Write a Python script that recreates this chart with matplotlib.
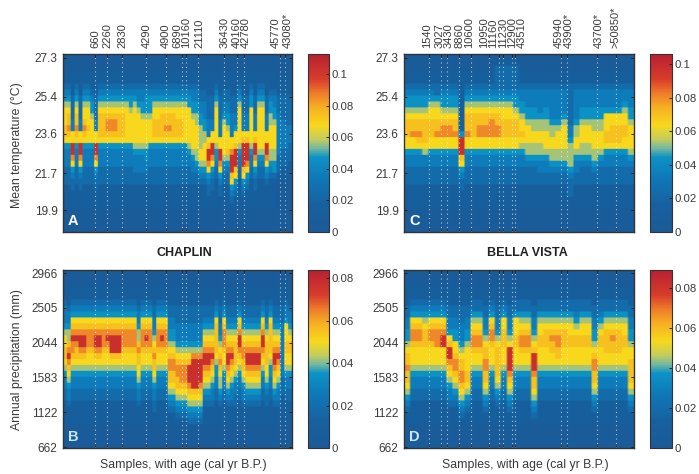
import numpy as np
import matplotlib
matplotlib.use('Agg')
import matplotlib.pyplot as plt
from matplotlib.colors import LinearSegmentedColormap

plt.rcParams['font.family'] = ['Liberation Sans', 'DejaVu Sans']

# colour level (0-9) -> share of the colorbar range
level_share = [0.03, 0.12, 0.22, 0.32, 0.42, 0.50, 0.60, 0.66, 0.76, 0.92]

# every string is one sample column, top of the plot first, trailing zeros left out
temp_chaplin = [
 "00011234566677643332221111","00011234567787643332221111","00011112222336699864322111",
 "00011234567787643332221111","00011112222336699864322111","00011234566787643332221111",
 "00011234566676643332221111","00011123445666643332221111","00011112222336699864322111",
 "00011234567777643332221111","00011234567777643332221111","00011234567887643332221111",
 "00011234567887643332221111","00011234567887643332221111","00011234567777643332221111",
 "00011234567777643332221111","00011234566666643332221111","00011234456666643332221111",
 "00011234566666654333221111","00011233456666654333221111","00011233445666654333221111",
 "00011234445666654433221111","00011234445666643332221111","00011234566777643332221111",
 "00011234566777643332221111","00011234567777643332221111","00011234567787643332221111",
 "00011234567787643332221111","00011234567777643332221111","00011234566777643332221111",
 "00011234566777643332221111","00011234566666643332221111","00011234466666654332221111",
 "00011233445666665433221111","00011233445566665543221111","00011122334455556654321111",
 "00011122333445566654321111","00011112222333679986432211","00011112222336699864322111",
 "00011234566666654432211111","00011112222333669986432211","00011122334566666543221111",
 "00011122334456667543221111","00011112223333668999764321","00011112223346679997643211",
 "00011234566666654332211111","00011112223336799997643211","00011112223336799986432111",
 "00011234466666654332211111","00011112223336799864322111","00011234566666665432211111",
 "00011234566666665432211111","00011112223336699864321111","00011123445566665543211111",
 "00011123344566665544211111","00001112223333333222110000","00001112222333332221100000",
 "00001112222233332221100000","00001112222233322211100000",
]
precip_chaplin = [
 "00011233345667765433221111","00011123345578987654332111","00011234678988765433221111",
 "00011234678987765433221111","00011234678998765433221111","00011234678998765433221111",
 "00011234678887665433221111","00011234678887665433221111","00011234678998765433221111",
 "00011234678998765433221111","00011234678887665433221111","00011234678987665433221111",
 "00011234678999765433221111","00011234678999765433221111","00011234678999765433221111",
 "00011234678887665433221111","00011234678887665433221111","00011234678887665433221111",
 "00011234678887665433221111","00011123345578776654332111","00011234678887665433221111",
 "00011234678987665433221111","00011234678887665433221111","00011122334567877654332211",
 "00011234678887665433221111","00011234678987665433221111","00011234678887665433221111",
 "00011122334456788776543211","00011122334456788776543211","00011122233345678877654321",
 "00011122233345678887654321","00011122233345678887654321","00011122233345679998765432",
 "00011122233345899999765432","00011122233345899999765432","00011122233345899998765432",
 "00011122345678998765432111","00011122345678998765432111","00011122345678987654332111",
 "00011234677777654433221111","00011122233456787655432111","00011234678887665433221111",
 "00011122345678998765432111","00011122345678987654332111","00011122345677776543322111",
 "00011234678998765433221111","00011122345678877654332111","00011122345678998765432111",
 "00011122345678998765432111","00011122345678998765432111","00011122345678998765432111",
 "00011234678998765433221111","00011122345677776654322111","00011234677777654433221111",
 "00011122345678998765432111","00011122345678987654332111","00011122233333333322211100",
 "00011233466677665433221111","00011123345677665433221111",
]
temp_bella = [
 "00011234456777664332221111","00011234456778664332221111","00011234456778764332221111",
 "00011234456777765332221111","00011234566777664332221111","00011224566778664332221111",
 "00011234456788664332221111","00011234456788664332221111","00011234456778664332221111",
 "00011111111114999764322111","00011234567778664332221111","00011234567777664332221111",
 "00011234567788664332221111","00011234567788664332221111","00011234567888664332221111",
 "01222234567788664332221111","01222234566777664332221111","01222234566777664332221111",
 "01222234456777664332221111","00011233445667654332221111","00011233344566655432221111",
 "00011233344556655432221111","00011233334556655433221111","00011233344556665433221111",
 "00011233333455665543221111","00011233333456665543221111","00011233334566665543221111",
 "00011222222233455554322211","00011233333455665433221111","00011233344566655432221111",
 "00011233344566655432221111","00011233344556665543221111","00011233344556665432221111",
 "00011233346667764332221111","00011233346677764332221111","00011233346677764332221111",
 "00011233456677664332221111","00011233344566665432221111",
]
precip_bella = [
 "00011122334456778776543211","00011234678876665433221111","00011234678876665433221111",
 "00011234567776665433221111","00011234678876665433221111","00011234678886665433221111",
 "00011234678996665433221111","00011122334679987654332111","00011122334466788765432111",
 "00011122233345677887654321","00011122334456666776543211","00011224567887665433221111",
 "00011224567887665433221111","00011122334567788776543211","00011234678876665433221111",
 "00011122334567777765432111","00011234667776665433221111","00011122334569999876543211",
 "00011224666776665433221111","00011224567887665433221111","00011224567887665433221111",
 "00011122334567999877654321","00011224566776665433221111","00011224567776665433221111",
 "00011224567877665433221111","00011224567887765433221111","00011224567776665433221111",
 "00011224566776665433221111","00011223456776665433221111","00011224566776665433221111",
 "00011224566776665433221111","00011122334456788776543211","00011223456776665433221111",
 "00011224567777665433221111","00011224567877665433221111","00011224567777665433221111",
 "00011224566776665433221111","00011122334456677776543211",
]

temp_ticks = [27.3, 25.4, 23.6, 21.7, 19.9]
precip_ticks = [2966, 2505, 2044, 1583, 1122, 662]
temp_lim = [18.83, 27.49]
precip_lim = [649, 3006]

chaplin_samples = [8.2, 11.4, 15.3, 21.4, 26.5, 30.6, 31.6, 34.7, 41.6, 44.8, 46.7, 55.9, 57.1]
chaplin_label_x = [8.3, 11.4, 15.2, 21.7, 26.6, 29.5, 31.8, 35.1, 41.6, 44.7, 47, 54.8, 57.9]
chaplin_ages = ['660', '2260', '2830', '4290', '4900', '6890', '10160', '21110', '36430', '40160',
                '42780', '45770', '43080*']
bella_samples = [4.08, 6.07, 7.1, 9.05, 11, 14.07, 15.7, 16.3, 17.8, 18.3, 26, 27, 31.9, 35]
bella_label_x = [3.8, 5.8, 7.4, 9.1, 10.7, 13.2, 14.7, 16.4, 17.9, 19.5, 25.6, 27.3, 32.1, 35]
bella_ages = ['1540', '3027', '3430', '8860', '10600', '10950', '11160', '11230', '12900', '43510',
              '45940', '43900*', '43700*', '>50850*']

cb_a = [0, 0.02, 0.04, 0.06, 0.08, 0.1]
cb_b = [0, 0.02, 0.04, 0.06, 0.08]

cmap = LinearSegmentedColormap.from_list('print_jet', [
    (0, '#1b5a98'), (0.15, '#17609f'), (0.3, '#0f78b8'), (0.42, '#0c92c6'), (0.47, '#74b8a0'),
    (0.52, '#c2cc60'), (0.6, '#f8d81c'), (0.7, '#f6b022'), (0.78, '#ee7c2a'), (0.86, '#d83c2c'),
    (1, '#b82030')])

W, H = 699, 474
fig = plt.figure(figsize=(W / 100, H / 100), dpi=100)
grey = '#3a3a3a'


def box(x0, y0, x1, y1):
    return [x0 / W, 1 - y1 / H, (x1 - x0) / W, (y1 - y0) / H]


def panel(cols, vmax, ylim, yticks, samples, pos, cb_pos, cb_ticks, letter, letter_col):
    rows = [list(c.ljust(30, '0')) for c in cols]
    z = np.array([[level_share[int(v)] * vmax for v in r] for r in rows]).T
    # repeat the cells so bilinear only softens their edges
    z = np.repeat(np.repeat(z, 5, axis=0), 3, axis=1)
    ax = fig.add_axes(box(*pos))
    im = ax.imshow(z, aspect='auto', cmap=cmap, vmin=0, vmax=vmax, interpolation='bilinear',
                   extent=[0, len(cols), ylim[0], ylim[1]])
    for s in samples:
        ax.axvline(s, color='white', lw=0.8, ls=(0, (1, 3)), alpha=0.65)
    ax.set_yticks(yticks)
    ax.set_yticklabels([str(t) for t in yticks], fontsize=8.5, color=grey)
    ax.set_xticks(samples)
    ax.set_xticklabels([])
    ax.tick_params(axis='both', direction='in', length=2, width=0.7, color='#222222',
                   top=True, right=True, pad=4)
    for sp in ax.spines.values():
        sp.set_color('#333333')
        sp.set_linewidth(1)
    ax.text(0.045, 0.06, letter, transform=ax.transAxes, color=letter_col, fontsize=10.5,
            fontweight='bold', ha='center', va='center')
    cax = fig.add_axes(box(*cb_pos))
    cb = fig.colorbar(im, cax=cax)
    cb.set_ticks(cb_ticks)
    cb.set_ticklabels([str(t) for t in cb_ticks], fontsize=8.2, color=grey)
    cb.ax.tick_params(direction='in', length=2, width=0.7, pad=1.5, color='#222222')
    cb.outline.set_edgecolor('#333333')
    return ax


ax_a = panel(temp_chaplin, 0.1126, temp_lim, temp_ticks, chaplin_samples,
             (63, 54, 292, 232), (308, 54, 329, 232), cb_a, 'A', 'white')
ax_b = panel(precip_chaplin, 0.0838, precip_lim, precip_ticks, chaplin_samples,
             (63, 270, 292, 448), (308, 270, 329, 448), cb_b, 'B', '#cfe4f5')
ax_c = panel(temp_bella, 0.106, temp_lim, temp_ticks, bella_samples,
             (404, 54, 634, 232), (650, 54, 672, 232), cb_a, 'C', 'white')
ax_d = panel(precip_bella, 0.089, precip_lim, precip_ticks, bella_samples,
             (404, 270, 634, 448), (650, 270, 672, 448), cb_b, 'D', '#cfe4f5')

for ax, xs, labs in [(ax_a, chaplin_label_x, chaplin_ages), (ax_c, bella_label_x, bella_ages)]:
    for x, lab in zip(xs, labs):
        ax.annotate(lab, xy=(x, 1), xycoords=('data', 'axes fraction'), xytext=(0, 4),
                    textcoords='offset points', rotation=90, ha='center', va='bottom',
                    fontsize=8, color=grey)

fig.text(17 / W, 1 - 145 / H, 'Mean temperature (°C)', rotation=90, ha='center', va='center',
         fontsize=8.8, color=grey)
fig.text(17 / W, 1 - 360 / H, 'Annual precipitation (mm)', rotation=90, ha='center', va='center',
         fontsize=8.8, color=grey)
fig.text(184 / W, 1 - 253 / H, 'CHAPLIN', ha='center', va='center', fontsize=9, fontweight='bold',
         color='#222222')
fig.text(527 / W, 1 - 253 / H, 'BELLA VISTA', ha='center', va='center', fontsize=9,
         fontweight='bold', color='#222222')
fig.text(183 / W, 1 - 465 / H, 'Samples, with age (cal yr B.P.)', ha='center', va='center',
         fontsize=8.8, color=grey)
fig.text(525 / W, 1 - 465 / H, 'Samples, with age (cal yr B.P.)', ha='center', va='center',
         fontsize=8.8, color=grey)

fig.savefig('out.png', dpi=100)
